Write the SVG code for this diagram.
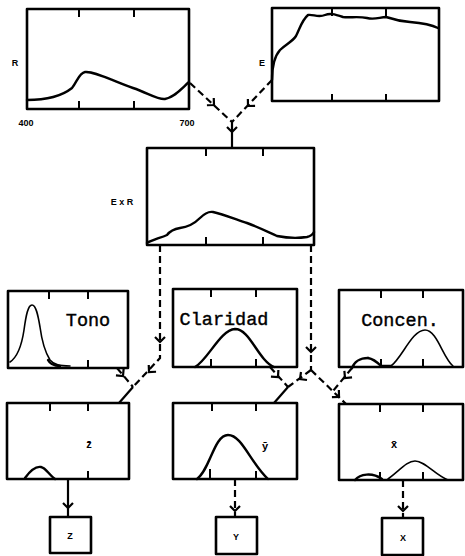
<svg xmlns="http://www.w3.org/2000/svg" width="465" height="556" viewBox="0 0 465 556">
<style>
.box{fill:none;stroke:#000;stroke-width:2.6;stroke-linejoin:round}
.tk{stroke:#000;stroke-width:2;fill:none}
.cv{fill:none;stroke:#000;stroke-width:2.4;stroke-linecap:round}
.cvt{fill:none;stroke:#000;stroke-width:1.6;stroke-linecap:round}
.dash{fill:none;stroke:#000;stroke-width:2.2;stroke-dasharray:7 4}
.sol{fill:none;stroke:#000;stroke-width:2.2}
.lbl{font-family:"Liberation Sans",Arial,sans-serif;font-size:9px;font-weight:bold;fill:#000}
.bar{font-family:"Liberation Sans",Arial,sans-serif;font-size:11px;font-weight:bold;fill:#000}
.big{font-family:"Liberation Mono","Courier New",monospace;font-size:18.5px;fill:#000;stroke:#000;stroke-width:0.4}
</style>
<defs>
<path id="chev" d="M-5,-5 L0,0 L-5,5" fill="none" stroke="#000" stroke-width="2.2"/>
</defs>
<g id="connectors">
<path class="dash" d="M190,83 L232,122"/>
<use href="#chev" transform="translate(214,105) rotate(43)"/>
<path class="dash" d="M272,80 L232,122"/>
<use href="#chev" transform="translate(248,106) rotate(134)"/>
<path class="sol" d="M232,122 L232,148"/>
<use href="#chev" transform="translate(232,132) rotate(90)"/>
<path class="dash" d="M160,245 L160,358 L133,387"/>
<use href="#chev" transform="translate(160,342) rotate(90)"/>
<use href="#chev" transform="translate(149,372) rotate(133)"/>
<path class="dash" d="M117,368 L133,387"/>
<use href="#chev" transform="translate(123,376) rotate(50)"/>
<path class="sol" d="M133,387 L119,403"/>
<path class="dash" d="M311,245 L311,370"/>
<use href="#chev" transform="translate(311,352) rotate(90)"/>
<path class="dash" d="M311,370 L288,387"/>
<use href="#chev" transform="translate(300,379) rotate(143)"/>
<path class="dash" d="M270,367 L288,387"/>
<use href="#chev" transform="translate(278,377) rotate(48)"/>
<path class="sol" d="M288,387 L274,403"/>
<path class="dash" d="M311,370 L346,404"/>
<use href="#chev" transform="translate(339,397) rotate(44)"/>
<path class="cv" d="M368,358 C360,358 354,362 352,368"/>
<path class="dash" d="M352,368 L333,391"/>
<use href="#chev" transform="translate(345,378) rotate(130)"/>
<path class="sol" d="M68,479 L68,517"/>
<use href="#chev" transform="translate(68,508) rotate(90)"/>
<path class="dash" d="M235,479 L235,517"/>
<use href="#chev" transform="translate(235,511) rotate(90)"/>
<path class="dash" d="M403,480 L403,518"/>
<use href="#chev" transform="translate(403,511) rotate(90)"/>
</g>
<g id="nodeR">
<rect class="box" x="27" y="9" width="162" height="100"/>
<path class="tk" d="M79,9 V17 M134,9 V17 M79,109 V101 M134,109 V101"/>
<path class="cv" d="M27,100 C45,100 62,96 72,88 C77,82 79,73 85,72 C95,71 110,80 133,88 C148,93 158,100 165,99 C175,97 182,88 189,82"/>
<text class="lbl" x="15" y="66" text-anchor="middle">R</text>
<text class="lbl" x="26" y="126" text-anchor="middle">400</text>
<text class="lbl" x="187" y="126" text-anchor="middle">700</text>
</g>
<g id="nodeE">
<rect class="box" x="272" y="8" width="167" height="93"/>
<path class="tk" d="M332,8 V16 M386,8 V16 M332,101 V94 M386,101 V94"/>
<path class="cv" d="M272,80 C272,70 273,58 280,50 C286,44 292,42 296,36 C300,28 302,20 308,15 C313,14 318,18 325,15 C330,13 334,14 343,17 C350,18 358,16 367,18 C375,20 380,17 386,17 C392,19 398,21 410,22 C422,23 430,24 438,28"/>
<text class="lbl" x="262" y="66" text-anchor="middle">E</text>
</g>
<g id="nodeExR">
<rect class="box" x="147" y="148" width="167" height="97"/>
<path class="tk" d="M206,148 V156 M263,148 V156 M206,245 V237 M263,245 V237"/>
<path class="cv" d="M147,243 C152,240 160,238 167,235 C170,231 174,229 180,228 C188,227 194,224 200,218 C204,214 208,211 213,212 C222,214 235,219 247,223 C258,227 266,231 277,236 C287,238 300,238 307,237 C311,236 313,234 314,232"/>
<text class="lbl" x="122" y="205" text-anchor="middle">E x R</text>
</g>
<g id="nodeTono">
<rect class="box" x="8" y="291" width="120" height="77"/>
<path class="tk" d="M49,291 V299 M88,291 V299 M88,368 V360"/>
<path class="cvt" d="M10,362 C16,358 21,350 24,330 C26,315 28,305 32,305 C36,305 38,315 40,327 C42,342 45,352 50,360 C54,365 60,366 70,366"/>
<path class="cv" d="M48,360 C50,364 54,366 60,366"/>
<text class="big" x="88" y="326" text-anchor="middle">Tono</text>
</g>
<g id="nodeClaridad">
<rect class="box" x="173" y="289" width="124" height="78"/>
<path class="tk" d="M211,289 V297 M256,289 V297 M211,367 V359 M256,367 V359"/>
<path class="cv" d="M195,367 C208,360 220,330 235,329 C250,329 258,360 274,367"/>
<text class="big" x="224" y="325" text-anchor="middle">Claridad</text>
</g>
<g id="nodeConcen">
<rect class="box" x="339" y="290" width="124" height="77"/>
<path class="tk" d="M381,290 V298 M423,290 V298 M381,367 V359 M423,367 V359"/>
<path class="cv" d="M368,358 C374,359 378,363 381,366 L391,366"/>
<path class="cvt" d="M391,366 C402,358 412,330 425,330 C437,330 443,358 453,366"/>
<text class="big" x="400" y="326" text-anchor="middle">Concen.</text>
</g>
<g id="nodeZbar">
<rect class="box" x="7" y="403" width="122" height="76"/>
<path class="tk" d="M50,403 V411 M88,403 V411 M88,479 V471"/>
<path class="cv" d="M25,478 C30,471 36,466 41,467 C46,468 49,475 55,479"/>
<text class="bar" x="89" y="448" text-anchor="middle">z̄</text>
</g>
<g id="nodeYbar">
<rect class="box" x="173" y="403" width="124" height="76"/>
<path class="tk" d="M212,403 V411 M256,403 V411 M210,479 V469 M256,479 V471"/>
<path class="cv" d="M197,479 C210,470 214,435 228,435 C242,435 250,462 268,479"/>
<text class="bar" x="265" y="450" text-anchor="middle">ȳ</text>
</g>
<g id="nodeXbar">
<rect class="box" x="339" y="404" width="124" height="76"/>
<path class="tk" d="M380,404 V412 M423,404 V412 M380,480 V472 M423,480 V472"/>
<path class="cv" d="M355,480 C360,474 372,472 382,479"/>
<path class="cvt" d="M388,479 C400,470 407,461 415,461 C425,461 435,475 448,480"/>
<text class="bar" x="394" y="448" text-anchor="middle">x̄</text>
</g>
<g id="nodeZ">
<rect class="box" x="50" y="517" width="41" height="36"/>
<text class="lbl" x="70" y="539" text-anchor="middle">Z</text>
</g>
<g id="nodeY">
<rect class="box" x="216" y="517" width="41" height="37"/>
<text class="lbl" x="236" y="540" text-anchor="middle">Y</text>
</g>
<g id="nodeX">
<rect class="box" x="382" y="518" width="41" height="37"/>
<text class="lbl" x="403" y="541" text-anchor="middle">X</text>
</g>
</svg>
